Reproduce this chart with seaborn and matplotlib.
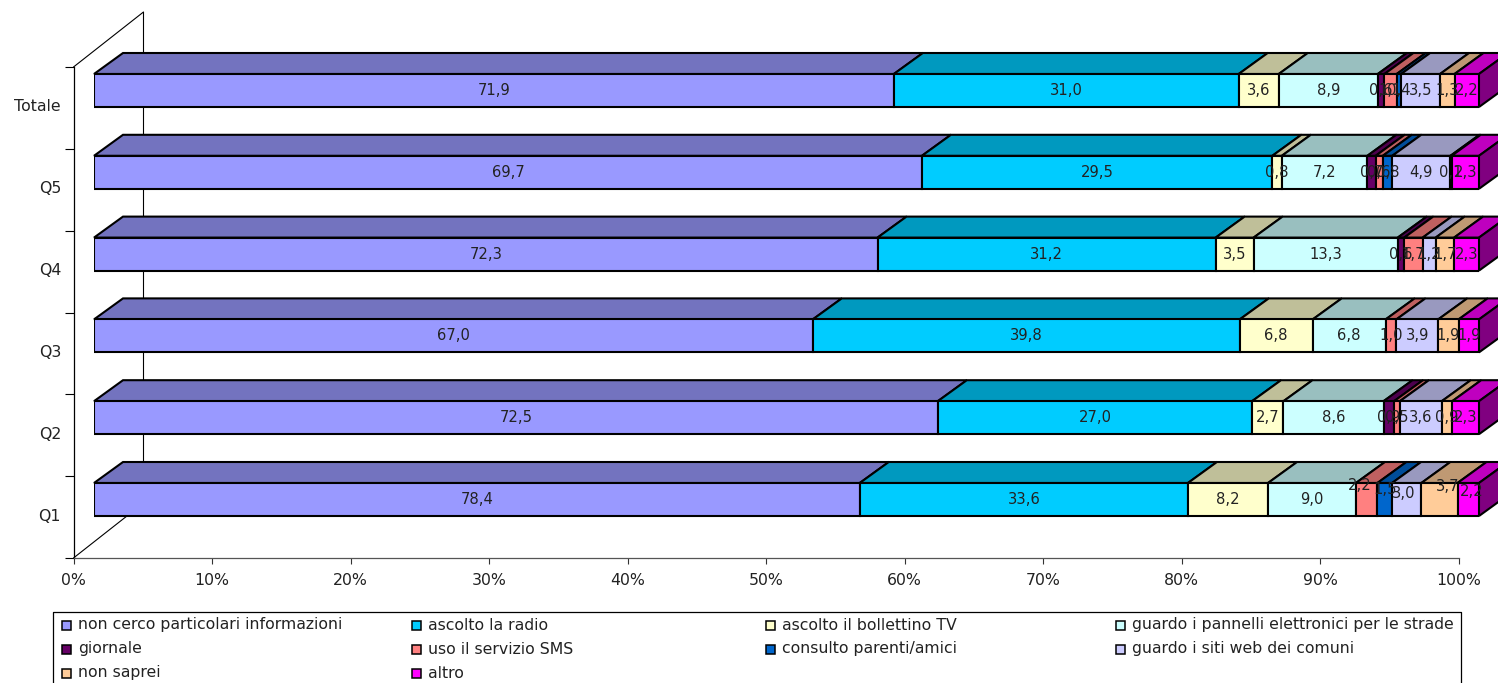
import pandas as pd
import matplotlib
matplotlib.use("Agg")
import matplotlib.pyplot as plt
import seaborn as sns
from matplotlib.patches import Polygon, Rectangle
from matplotlib.ticker import PercentFormatter

categories = ["Totale", "Q5", "Q4", "Q3", "Q2", "Q1"]

series_names = [
    "non cerco particolari informazioni", "ascolto la radio", "ascolto il bollettino TV",
    "guardo i pannelli elettronici per le strade", "giornale", "uso il servizio SMS",
    "consulto parenti/amici", "guardo i siti web dei comuni", "non saprei", "altro",
]

non_cerco = [71.9, 69.7, 72.3, 67.0, 72.5, 78.4]
radio = [31.0, 29.5, 31.2, 39.8, 27.0, 33.6]
bollettino = [3.6, 0.8, 3.5, 6.8, 2.7, 8.2]
pannelli = [8.9, 7.2, 13.3, 6.8, 8.6, 9.0]
giornale = [0.6, 0.7, 0.6, 0, 0.9, 0]
sms = [1.1, 0.6, 1.7, 1.0, 0.5, 2.2]
parenti = [0.4, 0.8, 0, 0, 0, 1.5]
siti_web = [3.5, 4.9, 1.2, 3.9, 3.6, 3.0]
non_saprei = [1.3, 0.1, 1.7, 1.9, 0.9, 3.7]
altro = [2.2, 2.3, 2.3, 1.9, 2.3, 2.2]
all_series = [non_cerco, radio, bollettino, pannelli, giornale, sms, parenti, siti_web, non_saprei, altro]

front_colors = ["#9999FF", "#00CCFF", "#FFFFCC", "#CCFFFF", "#660066", "#FF8080", "#0066CC", "#CCCCFF", "#FFCC99", "#FF00FF"]
top_colors = ["#7373BF", "#0099BF", "#BFBF99", "#99BFBF", "#4D004D", "#BF6060", "#004D99", "#9999BF", "#BF9973", "#BF00BF"]

# labels Excel had moved by hand in the Q1 row (series index -> px right, px up)
q1_shift = {5: (-7, 14), 6: (0, 10), 7: (-3, 6), 8: (8, 13), 9: (3, 8)}

W, H = 1498, 683
PCT = 13.85   # px per percent
PITCH = 81.8  # px per category
TEXT = "#222222"

sns.set_style("white")
plt.rcParams["font.family"] = ["DejaVu Sans"]
plt.rcParams["font.size"] = 11.3
VALUE_SIZE = 10.6

fig = plt.figure(figsize=(W / 100, H / 100), dpi=100)

# frame: axes with the tick marks and the side wall
ax = fig.add_axes([73.5 / W, (H - 558) / H, 1385 / W, 491 / H])
ax.set_xlim(0, 100)
ax.set_ylim(6, 0)
ax.set_xticks(range(0, 101, 10))
ax.xaxis.set_major_formatter(PercentFormatter(decimals=0))
ax.set_yticks([i + 0.47 for i in range(6)], categories)
ax.set_yticks(range(7), minor=True)
ax.tick_params(axis="y", which="major", length=0, pad=9, labelcolor=TEXT)
ax.tick_params(axis="y", which="minor", left=True, length=6.5, width=0.8, color="black")
ax.tick_params(axis="x", bottom=True, length=4.5, width=0.8, pad=6, color="#333333", labelcolor=TEXT)
sns.despine(ax=ax, top=True, right=True)
ax.spines["left"].set_color("black")
ax.spines["left"].set_linewidth(0.9)
ax.spines["bottom"].set_color("#555555")
ax.spines["bottom"].set_linewidth(0.9)
wall_x, wall_y = 70 / PCT, 55 / PITCH
ax.plot([0, wall_x, wall_x, 0], [0, -wall_y, 6 - wall_y, 6], color="black", lw=0.8, clip_on=False)

# bars: same scale, shifted into the depth of the chart
bars = fig.add_axes([94 / W, 0, 1385 / W, 1], facecolor="none")
bars.set_axis_off()

df = pd.DataFrame(all_series, index=series_names, columns=categories).T
shares = df.div(df.sum(axis=1), axis=0) * 100
lefts = shares.cumsum(axis=1).shift(1, axis=1).fillna(0)

BAR_H = 33 / PITCH
depth_x, depth_y = 29 / PCT, 21 / PITCH

for k, name in enumerate(series_names):
    visible = df[name] > 0
    plot_df = pd.DataFrame({"cat": categories, "share": shares[name].values})[visible.values]
    sns.barplot(data=plot_df, x="share", y="cat", order=categories, orient="y", ax=bars,
                left=lefts[name][visible].values, width=BAR_H, color=front_colors[k], saturation=1,
                edgecolor="black", linewidth=1.5, zorder=3)
    for row, cat in enumerate(categories):
        if df.loc[cat, name] <= 0:
            continue
        x0 = lefts.loc[cat, name]
        x1 = x0 + shares.loc[cat, name]
        y_top = row - BAR_H / 2
        top_face = [(x0, y_top), (x1, y_top), (x1 + depth_x, y_top - depth_y), (x0 + depth_x, y_top - depth_y)]
        bars.add_patch(Polygon(top_face, facecolor=top_colors[k], edgecolor="black", lw=1.5,
                               zorder=2, clip_on=False))
        shift = q1_shift.get(k, (0, 0)) if cat == "Q1" else (0, 0)
        bars.annotate(f"{df.loc[cat, name]:.1f}".replace(".", ","), ((x0 + x1) / 2, row),
                      xytext=shift, textcoords="offset pixels", ha="center", va="center",
                      color=TEXT, fontsize=VALUE_SIZE, zorder=5)

# right side of the last segment
for row, cat in enumerate(categories):
    y_top, y_bot = row - BAR_H / 2, row + BAR_H / 2
    side = [(100, y_top), (100 + depth_x, y_top - depth_y), (100 + depth_x, y_bot - depth_y), (100, y_bot)]
    bars.add_patch(Polygon(side, facecolor="#800080", edgecolor="black", lw=1.5, zorder=2, clip_on=False))

bars.set_xlim(0, 100)
bars.set_ylim((H - 90.5) / PITCH, -90.5 / PITCH)
bars.set_xlabel("")
bars.set_ylabel("")

# legend box, laid out in the same four columns as the original
fig.add_artist(plt.Line2D([53 / W, 53 / W, 1461 / W, 1461 / W], [0, (H - 612) / H, (H - 612) / H, 0],
                          color="black", lw=0.9))
col_x = [62, 412, 766, 1116]
row_y = [625, 649, 673]
col_sizes = [3, 3, 2, 2]
order = [0, 4, 8, 1, 5, 9, 2, 6, 3, 7]
pos = 0
for c, n_rows in enumerate(col_sizes):
    for r in range(n_rows):
        k = order[pos]
        pos += 1
        fig.add_artist(Rectangle((col_x[c] / W, (H - row_y[r] - 4.5) / H), 9 / W, 9 / H,
                                 facecolor=front_colors[k], edgecolor="black", lw=1.1,
                                 transform=fig.transFigure))
        fig.text((col_x[c] + 16) / W, (H - row_y[r]) / H, series_names[k], ha="left", va="center",
                 color=TEXT)

fig.savefig("out.png", dpi=100)
